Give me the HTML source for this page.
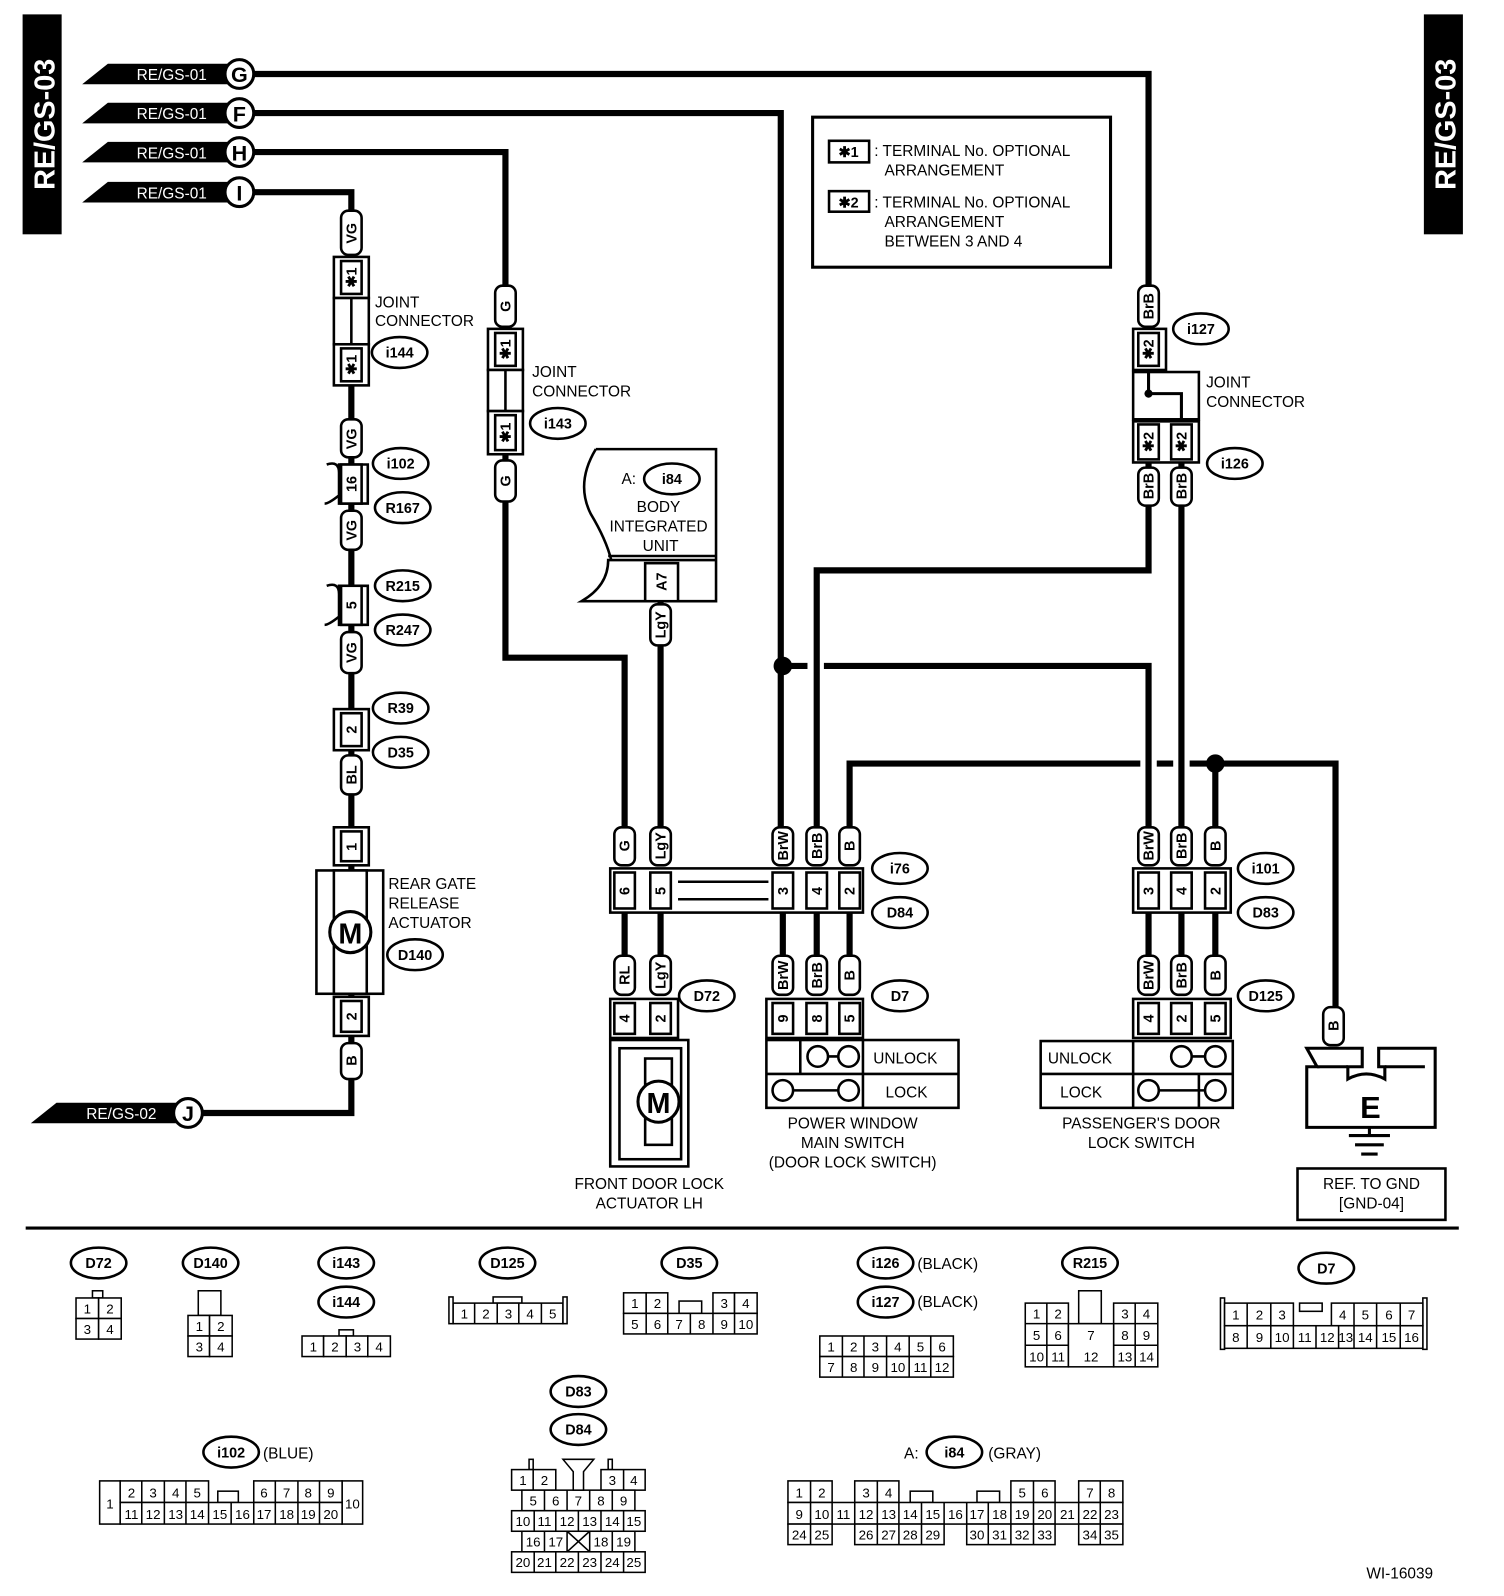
<!DOCTYPE html>
<html><head><meta charset="utf-8"><style>
html,body{margin:0;padding:0;background:#fff}
svg{display:block}
text{font-family:"Liberation Sans",sans-serif;fill:#000}
.w{stroke:#000;stroke-width:6;fill:none}
.b{stroke:#000;stroke-width:2.5;fill:#fff}
.t{font-size:15px}
.s{font-size:14px}
.g{font-size:14px;text-anchor:middle}
</style></head><body>
<svg width="1504" height="1596" viewBox="0 0 1464 1553" preserveAspectRatio="none" xmlns="http://www.w3.org/2000/svg">
<!-- side bars -->
<rect x="22" y="14" width="38" height="214" fill="#000"/>
<text transform="translate(53,121) rotate(-90)" text-anchor="middle" style="font-size:28px;font-weight:bold;fill:#fff">RE/GS-03</text>
<rect x="1386" y="14" width="38" height="214" fill="#000"/>
<text transform="translate(1417,121) rotate(-90)" text-anchor="middle" style="font-size:28px;font-weight:bold;fill:#fff">RE/GS-03</text>

<!-- wires -->
<g class="w">
<path d="M247 72 H1118 V280"/>
<path d="M247 110 H760 V805"/>
<path d="M247 148 H492 V640 H608 V805"/>
<path d="M247 187 H342 V1083 H196"/>
<path d="M643 585 V805"/>
<path d="M1118 318 V555 H795 V805"/>
<path d="M1150 450 V805"/>
<path d="M762 648 H786 M802 648 H1118 V805"/>
<path d="M827 805 V743 H1110 M1126 743 H1142 M1158 743 H1300 V980"/>
<path d="M1183 743 V805"/>
<path d="M608 888 V930 M643 888 V930 M762 888 V930 M795 888 V930 M827 888 V930"/>
<path d="M1118 888 V930 M1150 888 V930 M1183 888 V930"/>
</g>
<circle cx="762" cy="648" r="9"/>
<circle cx="1183" cy="743" r="9"/>

<!-- input flags -->
<g>
<path d="M80 82 L105 62 H222 V82 Z"/><path d="M80 120 L105 100 H222 V120 Z"/>
<path d="M80 158 L105 138 H222 V158 Z"/><path d="M80 197 L105 177 H222 V197 Z"/>
<path d="M30 1093 L55 1073 H172 V1093 Z"/>
</g>
<g style="font-size:15px;fill:#fff">
<text x="133" y="78" style="fill:#fff">RE/GS-01</text><text x="133" y="116" style="fill:#fff">RE/GS-01</text>
<text x="133" y="154" style="fill:#fff">RE/GS-01</text><text x="133" y="193" style="fill:#fff">RE/GS-01</text>
<text x="84" y="1089" style="fill:#fff">RE/GS-02</text>
</g>
<g class="b" style="stroke-width:3">
<circle cx="233" cy="72" r="14"/><circle cx="233" cy="110" r="14"/><circle cx="233" cy="148" r="14"/><circle cx="233" cy="187" r="14"/><circle cx="183" cy="1083" r="14"/>
</g>
<g style="font-size:21px;font-weight:bold" text-anchor="middle">
<text x="233" y="80">G</text><text x="233" y="118">F</text><text x="233" y="156">H</text><text x="233" y="195">I</text><text x="183" y="1091">J</text>
</g>

<!-- pills -->
<g class="b">
<rect x="332" y="205" width="20" height="43" rx="7"/><rect x="332" y="408" width="20" height="37" rx="7"/>
<rect x="332" y="497" width="20" height="38" rx="7"/><rect x="332" y="615" width="20" height="40" rx="7"/>
<rect x="332" y="735" width="20" height="38" rx="7"/><rect x="332" y="1015" width="20" height="35" rx="7"/>
<rect x="482" y="278" width="20" height="40" rx="7"/><rect x="482" y="448" width="20" height="40" rx="7"/>
<rect x="633" y="588" width="20" height="40" rx="7"/>
<rect x="1108" y="278" width="20" height="40" rx="7"/><rect x="1108" y="455" width="20" height="37" rx="7"/><rect x="1140" y="455" width="20" height="37" rx="7"/>
<rect x="598" y="805" width="20" height="37" rx="7"/><rect x="633" y="805" width="20" height="37" rx="7"/><rect x="752" y="805" width="20" height="37" rx="7"/><rect x="785" y="805" width="20" height="37" rx="7"/><rect x="817" y="805" width="20" height="37" rx="7"/>
<rect x="598" y="930" width="20" height="38" rx="7"/><rect x="633" y="930" width="20" height="38" rx="7"/><rect x="752" y="930" width="20" height="38" rx="7"/><rect x="785" y="930" width="20" height="38" rx="7"/><rect x="817" y="930" width="20" height="38" rx="7"/>
<rect x="1108" y="805" width="20" height="37" rx="7"/><rect x="1140" y="805" width="20" height="37" rx="7"/><rect x="1173" y="805" width="20" height="37" rx="7"/>
<rect x="1108" y="930" width="20" height="38" rx="7"/><rect x="1140" y="930" width="20" height="38" rx="7"/><rect x="1173" y="930" width="20" height="38" rx="7"/>
<rect x="1288" y="980" width="20" height="37" rx="7"/>
</g>
<g class="s" text-anchor="middle" style="font-weight:bold">
<text transform="translate(347,227) rotate(-90)">VG</text><text transform="translate(347,427) rotate(-90)">VG</text>
<text transform="translate(347,516) rotate(-90)">VG</text><text transform="translate(347,635) rotate(-90)">VG</text>
<text transform="translate(347,754) rotate(-90)">BL</text><text transform="translate(347,1032) rotate(-90)">B</text>
<text transform="translate(497,298) rotate(-90)">G</text><text transform="translate(497,468) rotate(-90)">G</text>
<text transform="translate(648,608) rotate(-90)">LgY</text>
<text transform="translate(1123,298) rotate(-90)">BrB</text><text transform="translate(1123,473) rotate(-90)">BrB</text><text transform="translate(1155,473) rotate(-90)">BrB</text>
<text transform="translate(613,823) rotate(-90)">G</text><text transform="translate(648,823) rotate(-90)">LgY</text><text transform="translate(767,823) rotate(-90)">BrW</text><text transform="translate(800,823) rotate(-90)">BrB</text><text transform="translate(832,823) rotate(-90)">B</text>
<text transform="translate(613,949) rotate(-90)">RL</text><text transform="translate(648,949) rotate(-90)">LgY</text><text transform="translate(767,949) rotate(-90)">BrW</text><text transform="translate(800,949) rotate(-90)">BrB</text><text transform="translate(832,949) rotate(-90)">B</text>
<text transform="translate(1123,823) rotate(-90)">BrW</text><text transform="translate(1155,823) rotate(-90)">BrB</text><text transform="translate(1188,823) rotate(-90)">B</text>
<text transform="translate(1123,949) rotate(-90)">BrW</text><text transform="translate(1155,949) rotate(-90)">BrB</text><text transform="translate(1188,949) rotate(-90)">B</text>
<text transform="translate(1303,998) rotate(-90)">B</text>
</g>

<!-- left column connectors -->
<g class="b">
<rect x="325" y="250" width="34" height="40"/><rect x="332" y="254" width="20" height="32"/>
<rect x="325" y="290" width="34" height="45"/><line x1="342" y1="290" x2="342" y2="335"/>
<rect x="325" y="335" width="34" height="40"/><rect x="332" y="339" width="20" height="32"/>
<path d="M318 452 Q330 448 330 460 V482 Q320 490 316 490 M330 452 H358 V490 H330 Z"/>
<rect x="332" y="452" width="20" height="38"/>
<path d="M318 570 Q330 566 330 578 V600 Q320 608 316 608 M330 570 H358 V608 H330 Z"/>
<rect x="332" y="570" width="20" height="38"/>
<rect x="325" y="690" width="34" height="40"/><rect x="332" y="694" width="20" height="32"/>
<rect x="325" y="805" width="34" height="37"/><rect x="332" y="809" width="20" height="29"/>
<rect x="308" y="847" width="65" height="120"/><rect x="325" y="847" width="32" height="120"/>
<rect x="325" y="970" width="34" height="38"/><rect x="332" y="974" width="20" height="30"/>
</g>
<circle cx="341" cy="907" r="20" fill="#fff" stroke="#000" stroke-width="3"/>
<text x="341" y="918" text-anchor="middle" style="font-size:28px;font-weight:bold">M</text>
<g class="s" text-anchor="middle" style="font-weight:bold">
<text transform="translate(347,270) rotate(-90)">✱1</text><text transform="translate(347,355) rotate(-90)">✱1</text>
<text transform="translate(347,471) rotate(-90)">16</text><text transform="translate(347,589) rotate(-90)">5</text>
<text transform="translate(347,710) rotate(-90)">2</text><text transform="translate(347,824) rotate(-90)">1</text>
<text transform="translate(347,989) rotate(-90)">2</text>
</g>
<g class="t">
<text x="365" y="299">JOINT</text><text x="365" y="317">CONNECTOR</text>
<text x="378" y="865">REAR GATE</text><text x="378" y="884">RELEASE</text><text x="378" y="903">ACTUATOR</text>
<text x="518" y="367">JOINT</text><text x="518" y="386">CONNECTOR</text>
<text x="1174" y="377">JOINT</text><text x="1174" y="396">CONNECTOR</text>
</g>

<!-- H joint -->
<g class="b">
<rect x="475" y="320" width="34" height="40"/><rect x="482" y="324" width="20" height="32"/>
<rect x="475" y="360" width="34" height="40"/><line x1="492" y1="360" x2="492" y2="400"/>
<rect x="475" y="400" width="34" height="42"/><rect x="482" y="404" width="20" height="34"/>
</g>
<g class="s" text-anchor="middle" style="font-weight:bold">
<text transform="translate(497,340) rotate(-90)">✱1</text><text transform="translate(497,421) rotate(-90)">✱1</text>
</g>

<!-- right joint -->
<g class="b">
<rect x="1103" y="320" width="32" height="40"/><rect x="1108" y="324" width="20" height="32"/>
<rect x="1103" y="362" width="64" height="46"/>
<rect x="1103" y="410" width="64" height="40"/><rect x="1108" y="413" width="20" height="34"/><rect x="1140" y="413" width="20" height="34"/>
</g>
<path d="M1118 362 V383 H1150 V410" class="w" style="stroke-width:3"/>
<circle cx="1118" cy="383" r="4"/>
<g class="s" text-anchor="middle" style="font-weight:bold">
<text transform="translate(1123,340) rotate(-90)">✱2</text><text transform="translate(1123,430) rotate(-90)">✱2</text><text transform="translate(1155,430) rotate(-90)">✱2</text>
</g>

<!-- Body integrated unit -->
<path d="M580 437 H697 V585 H566 Q592 570 592 545 H697 M592 545 V545" class="b"/>
<path d="M580 437 Q560 470 575 500 Q590 525 595 545" fill="none" stroke="#000" stroke-width="2.5"/>
<line x1="592" y1="541" x2="697" y2="541" stroke="#000" stroke-width="2.5"/>
<rect x="628" y="548" width="32" height="37" class="b"/>
<text transform="translate(649,566) rotate(-90)" class="s" text-anchor="middle" style="font-weight:bold">A7</text>
<text x="605" y="471" class="t">A:</text>
<g class="t" text-anchor="middle"><text x="641" y="498">BODY</text><text x="641" y="517">INTEGRATED</text><text x="643" y="536">UNIT</text></g>

<!-- i76/D84 block -->
<g class="b">
<rect x="594" y="845" width="246" height="43"/>
<rect x="598" y="849" width="20" height="35"/><rect x="633" y="849" width="20" height="35"/>
<rect x="752" y="849" width="20" height="35"/><rect x="785" y="849" width="20" height="35"/><rect x="817" y="849" width="20" height="35"/>
<line x1="660" y1="858" x2="748" y2="858"/><line x1="660" y1="875" x2="748" y2="875"/>
<rect x="1103" y="845" width="95" height="43"/>
<rect x="1108" y="849" width="20" height="35"/><rect x="1140" y="849" width="20" height="35"/><rect x="1173" y="849" width="20" height="35"/>
</g>
<g class="s" text-anchor="middle" style="font-weight:bold">
<text transform="translate(613,867) rotate(-90)">6</text><text transform="translate(648,867) rotate(-90)">5</text><text transform="translate(767,867) rotate(-90)">3</text><text transform="translate(800,867) rotate(-90)">4</text><text transform="translate(832,867) rotate(-90)">2</text>
<text transform="translate(1123,867) rotate(-90)">3</text><text transform="translate(1155,867) rotate(-90)">4</text><text transform="translate(1188,867) rotate(-90)">2</text>
</g>

<!-- D72 actuator -->
<g class="b">
<rect x="594" y="972" width="66" height="38"/><rect x="598" y="976" width="20" height="30"/><rect x="633" y="976" width="20" height="30"/>
<rect x="594" y="1012" width="76" height="123"/><rect x="603" y="1020" width="60" height="108"/>
<rect x="628" y="1030" width="26" height="84"/>
</g>
<circle cx="641" cy="1072" r="20" fill="#fff" stroke="#000" stroke-width="3"/>
<text x="641" y="1083" text-anchor="middle" style="font-size:28px;font-weight:bold">M</text>
<g class="s" text-anchor="middle" style="font-weight:bold">
<text transform="translate(613,991) rotate(-90)">4</text><text transform="translate(648,991) rotate(-90)">2</text>
</g>
<g class="t" text-anchor="middle"><text x="632" y="1157">FRONT DOOR LOCK</text><text x="632" y="1176">ACTUATOR LH</text></g>

<!-- D7 switch -->
<g class="b">
<rect x="746" y="972" width="94" height="38"/><rect x="752" y="976" width="20" height="30"/><rect x="785" y="976" width="20" height="30"/><rect x="817" y="976" width="20" height="30"/>
<rect x="746" y="1012" width="187" height="66"/><line x1="746" y1="1045" x2="933" y2="1045"/><line x1="840" y1="1012" x2="840" y2="1078"/><line x1="779" y1="1012" x2="779" y2="1045"/>
<line x1="796" y1="1028" x2="826" y2="1028"/><line x1="762" y1="1061" x2="826" y2="1061"/>
<circle cx="796" cy="1028" r="10"/><circle cx="826" cy="1028" r="10"/><circle cx="762" cy="1061" r="10"/><circle cx="826" cy="1061" r="10"/>
</g>
<g class="s" text-anchor="middle" style="font-weight:bold">
<text transform="translate(767,991) rotate(-90)">9</text><text transform="translate(800,991) rotate(-90)">8</text><text transform="translate(832,991) rotate(-90)">5</text>
</g>
<g class="t"><text x="850" y="1035">UNLOCK</text><text x="862" y="1068">LOCK</text></g>
<g class="t" text-anchor="middle"><text x="830" y="1098">POWER WINDOW</text><text x="830" y="1117">MAIN SWITCH</text><text x="830" y="1136">(DOOR LOCK SWITCH)</text></g>

<!-- D125 switch -->
<g class="b">
<rect x="1103" y="972" width="95" height="38"/><rect x="1108" y="976" width="20" height="30"/><rect x="1140" y="976" width="20" height="30"/><rect x="1173" y="976" width="20" height="30"/>
<rect x="1013" y="1013" width="187" height="65"/><line x1="1013" y1="1045" x2="1200" y2="1045"/><line x1="1103" y1="1013" x2="1103" y2="1078"/><line x1="1167" y1="1045" x2="1167" y2="1078"/>
<line x1="1150" y1="1028" x2="1183" y2="1028"/><line x1="1118" y1="1061" x2="1183" y2="1061"/>
<circle cx="1150" cy="1028" r="10"/><circle cx="1183" cy="1028" r="10"/><circle cx="1118" cy="1061" r="10"/><circle cx="1183" cy="1061" r="10"/>
</g>
<g class="s" text-anchor="middle" style="font-weight:bold">
<text transform="translate(1123,991) rotate(-90)">4</text><text transform="translate(1155,991) rotate(-90)">2</text><text transform="translate(1188,991) rotate(-90)">5</text>
</g>
<g class="t"><text x="1020" y="1035">UNLOCK</text><text x="1032" y="1068">LOCK</text></g>
<g class="t" text-anchor="middle"><text x="1111" y="1098">PASSENGER'S DOOR</text><text x="1111" y="1117">LOCK SWITCH</text></g>

<!-- ground -->
<path d="M1272 1020 H1326 V1038 H1312 V1050 Q1330 1040 1348 1050 V1038 H1342 V1020 H1397 V1097 H1272 V1038 H1282 Z" class="b" style="stroke-width:3"/>
<line x1="1282" y1="1038" x2="1312" y2="1038" stroke="#000" stroke-width="3"/>
<line x1="1348" y1="1038" x2="1387" y2="1038" stroke="#000" stroke-width="3"/>
<text x="1334" y="1088" text-anchor="middle" style="font-size:30px;font-weight:bold">E</text>
<g stroke="#000" stroke-width="3"><line x1="1333" y1="1097" x2="1333" y2="1105"/><line x1="1313" y1="1105" x2="1353" y2="1105"/><line x1="1319" y1="1114" x2="1347" y2="1114"/><line x1="1325" y1="1123" x2="1341" y2="1123"/></g>
<rect x="1263" y="1137" width="144" height="50" class="b"/>
<g class="t" text-anchor="middle"><text x="1335" y="1157">REF. TO GND</text><text x="1335" y="1176">[GND-04]</text></g>

<!-- note box -->
<rect x="791" y="114" width="290" height="146" class="b" style="stroke-width:3"/>
<rect x="807" y="137" width="39" height="21" class="b"/><rect x="807" y="186" width="39" height="20" class="b"/>
<text x="826" y="153" text-anchor="middle" class="s" style="font-weight:bold">✱1</text>
<text x="826" y="202" text-anchor="middle" class="s" style="font-weight:bold">✱2</text>
<g class="t"><text x="851" y="152">: TERMINAL No. OPTIONAL</text><text x="861" y="171">ARRANGEMENT</text>
<text x="851" y="202">: TERMINAL No. OPTIONAL</text><text x="861" y="221">ARRANGEMENT</text><text x="861" y="240">BETWEEN 3 AND 4</text></g>

<!-- oval labels -->
<g class="b" style="stroke-width:2.5">
<ellipse cx="389" cy="343" rx="27" ry="15"/><ellipse cx="390" cy="451" rx="27" ry="15"/><ellipse cx="392" cy="494" rx="27" ry="15"/>
<ellipse cx="392" cy="570" rx="27" ry="15"/><ellipse cx="392" cy="613" rx="27" ry="15"/><ellipse cx="390" cy="689" rx="27" ry="15"/><ellipse cx="390" cy="732" rx="27" ry="15"/>
<ellipse cx="404" cy="929" rx="27" ry="15"/><ellipse cx="543" cy="412" rx="27" ry="15"/><ellipse cx="654" cy="466" rx="27" ry="15"/>
<ellipse cx="1169" cy="320" rx="27" ry="15"/><ellipse cx="1202" cy="451" rx="27" ry="15"/>
<ellipse cx="876" cy="845" rx="27" ry="15"/><ellipse cx="876" cy="888" rx="27" ry="15"/><ellipse cx="688" cy="969" rx="27" ry="15"/><ellipse cx="876" cy="969" rx="27" ry="15"/>
<ellipse cx="1232" cy="845" rx="27" ry="15"/><ellipse cx="1232" cy="888" rx="27" ry="15"/><ellipse cx="1232" cy="969" rx="27" ry="15"/>
<ellipse cx="96" cy="1229" rx="27" ry="15"/><ellipse cx="205" cy="1229" rx="27" ry="15"/><ellipse cx="337" cy="1229" rx="27" ry="15"/><ellipse cx="337" cy="1267" rx="27" ry="15"/>
<ellipse cx="494" cy="1229" rx="27" ry="15"/><ellipse cx="671" cy="1229" rx="27" ry="15"/><ellipse cx="862" cy="1229" rx="27" ry="15"/><ellipse cx="862" cy="1267" rx="27" ry="15"/>
<ellipse cx="1061" cy="1229" rx="27" ry="15"/><ellipse cx="1291" cy="1234" rx="27" ry="15"/>
<ellipse cx="563" cy="1354" rx="27" ry="15"/><ellipse cx="563" cy="1391" rx="27" ry="15"/><ellipse cx="225" cy="1413" rx="27" ry="15"/><ellipse cx="929" cy="1413" rx="27" ry="15"/>
</g>
<g class="g" style="font-weight:bold">
<text x="389" y="348">i144</text><text x="390" y="456">i102</text><text x="392" y="499">R167</text>
<text x="392" y="575">R215</text><text x="392" y="618">R247</text><text x="390" y="694">R39</text><text x="390" y="737">D35</text>
<text x="404" y="934">D140</text><text x="543" y="417">i143</text><text x="654" y="471">i84</text>
<text x="1169" y="325">i127</text><text x="1202" y="456">i126</text>
<text x="876" y="850">i76</text><text x="876" y="893">D84</text><text x="688" y="974">D72</text><text x="876" y="974">D7</text>
<text x="1232" y="850">i101</text><text x="1232" y="893">D83</text><text x="1232" y="974">D125</text>
<text x="96" y="1234">D72</text><text x="205" y="1234">D140</text><text x="337" y="1234">i143</text><text x="337" y="1272">i144</text>
<text x="494" y="1234">D125</text><text x="671" y="1234">D35</text><text x="862" y="1234">i126</text><text x="862" y="1272">i127</text>
<text x="1061" y="1234">R215</text><text x="1291" y="1239">D7</text>
<text x="563" y="1359">D83</text><text x="563" y="1396">D84</text><text x="225" y="1418">i102</text><text x="929" y="1418">i84</text>
</g>
<g class="t"><text x="893" y="1235">(BLACK)</text><text x="893" y="1272">(BLACK)</text><text x="256" y="1419">(BLUE)</text><text x="880" y="1419">A:</text><text x="962" y="1419">(GRAY)</text></g>

<line x1="25" y1="1195" x2="1420" y2="1195" stroke="#000" stroke-width="3"/>

<!-- bottom connector grids -->
<g fill="#fff" stroke="#000" stroke-width="1.5">
<!-- D72 -->
<rect x="90" y="1256" width="10" height="7"/>
<rect x="74" y="1263" width="22" height="20"/><rect x="96" y="1263" width="22" height="20"/><rect x="74" y="1283" width="22" height="20"/><rect x="96" y="1283" width="22" height="20"/>
<!-- D140 -->
<rect x="193" y="1256" width="22" height="24"/>
<rect x="183" y="1280" width="21" height="20"/><rect x="204" y="1280" width="22" height="20"/><rect x="183" y="1300" width="21" height="20"/><rect x="204" y="1300" width="22" height="20"/>
<!-- i143 -->
<rect x="330" y="1294" width="14" height="6"/>
<rect x="294" y="1300" width="21" height="20"/><rect x="315" y="1300" width="22" height="20"/><rect x="337" y="1300" width="21" height="20"/><rect x="358" y="1300" width="22" height="20"/>
<!-- D125 -->
<rect x="480" y="1262" width="28" height="6"/><rect x="441" y="1268" width="107" height="20"/>
<rect x="437" y="1262" width="4" height="26"/><rect x="548" y="1262" width="4" height="26"/>
<!-- D35 -->
<rect x="607" y="1258" width="22" height="20"/><rect x="629" y="1258" width="21" height="20"/><rect x="661" y="1266" width="22" height="12"/><rect x="694" y="1258" width="21" height="20"/><rect x="715" y="1258" width="22" height="20"/>
<rect x="607" y="1278" width="130" height="20"/>
<!-- i126 -->
<rect x="798" y="1300" width="130" height="20"/><rect x="798" y="1320" width="130" height="20"/>
<!-- R215 -->
<rect x="1050" y="1256" width="22" height="32"/>
<rect x="998" y="1268" width="42" height="62"/><rect x="1084" y="1268" width="43" height="62"/><rect x="1040" y="1288" width="44" height="42"/>
<!-- D7 -->
<rect x="1188" y="1263" width="4" height="50"/><rect x="1385" y="1263" width="4" height="50"/>
<rect x="1192" y="1268" width="67" height="22"/><rect x="1265" y="1268" width="22" height="8"/><rect x="1296" y="1268" width="89" height="22"/>
<rect x="1192" y="1290" width="193" height="22"/>
<!-- i102 -->
<rect x="97" y="1441" width="20" height="42"/><rect x="333" y="1441" width="20" height="42"/>
<rect x="117" y="1441" width="86" height="21"/><rect x="212" y="1451" width="20" height="11"/><rect x="247" y="1441" width="86" height="21"/>
<rect x="117" y="1462" width="216" height="21"/>
<!-- D83/D84 -->
<rect x="515" y="1420" width="4" height="10"/><rect x="592" y="1420" width="4" height="10"/>
<rect x="498" y="1430" width="43" height="20"/><rect x="585" y="1430" width="43" height="20"/>
<rect x="508" y="1450" width="110" height="20"/><rect x="498" y="1470" width="130" height="20"/><rect x="508" y="1490" width="110" height="20"/><rect x="498" y="1510" width="130" height="20"/>
<!-- i84 -->
<rect x="767" y="1441" width="43" height="21"/><rect x="832" y="1441" width="43" height="21"/><rect x="886" y="1451" width="22" height="11"/><rect x="951" y="1451" width="22" height="11"/><rect x="984" y="1441" width="43" height="21"/><rect x="1050" y="1441" width="43" height="21"/>
<rect x="767" y="1462" width="326" height="21"/>
<rect x="767" y="1483" width="43" height="20"/><rect x="832" y="1483" width="87" height="20"/><rect x="941" y="1483" width="86" height="20"/><rect x="1050" y="1483" width="43" height="20"/>
</g>
<!-- internal dividers -->
<g stroke="#000" stroke-width="1.5">
<path d="M462 1268V1288M484 1268V1288M505 1268V1288M527 1268V1288"/>
<path d="M629 1278V1298M650 1278V1298M672 1278V1298M694 1278V1298M715 1278V1298"/>
<path d="M820 1300V1340M841 1300V1340M863 1300V1340M885 1300V1340M906 1300V1340"/>
<path d="M1019 1268V1330M998 1288H1040M998 1309H1040M1084 1288H1127M1084 1309H1127M1105 1268V1330"/>
<path d="M1214 1268V1312M1237 1268V1312M1259 1290V1312M1281 1290V1312M1303 1290V1312M1318 1268V1312M1340 1268V1312M1363 1268V1312"/>
<path d="M138 1441V1483M160 1441V1483M181 1441V1483M203 1462V1483M225 1462V1483M247 1462V1483M268 1441V1483M290 1441V1483M311 1441V1483"/>
<path d="M519 1430V1450M607 1430V1450M530 1450V1470M552 1450V1470M574 1450V1470M596 1450V1470M520 1470V1490M541 1470V1490M563 1470V1490M585 1470V1490M607 1470V1490M530 1490V1510M552 1490V1510M574 1490V1510M596 1490V1510M520 1510V1530M541 1510V1530M563 1510V1530M585 1510V1530M607 1510V1530M552 1490L574 1510M574 1490L552 1510"/>
<path d="M548 1420H578L568 1432V1450H558V1432Z" fill="#fff"/>
<path d="M789 1441V1503M789 1462V1503M810 1462V1483M832 1462V1483M854 1441V1503M875 1462V1503M897 1462V1503M919 1462V1483M941 1462V1483M962 1462V1503M984 1462V1503M1006 1441V1503M1027 1462V1483M1050 1462V1483M1071 1441V1503"/>
</g>
<g style="font-size:13px" text-anchor="middle">
<text x="85" y="1278">1</text><text x="107" y="1278">2</text><text x="85" y="1298">3</text><text x="107" y="1298">4</text>
<text x="194" y="1295">1</text><text x="215" y="1295">2</text><text x="194" y="1315">3</text><text x="215" y="1315">4</text>
<text x="305" y="1315">1</text><text x="326" y="1315">2</text><text x="348" y="1315">3</text><text x="369" y="1315">4</text>
<text x="452" y="1283">1</text><text x="473" y="1283">2</text><text x="495" y="1283">3</text><text x="516" y="1283">4</text><text x="538" y="1283">5</text>
<text x="618" y="1273">1</text><text x="640" y="1273">2</text><text x="705" y="1273">3</text><text x="726" y="1273">4</text>
<text x="618" y="1293">5</text><text x="640" y="1293">6</text><text x="661" y="1293">7</text><text x="683" y="1293">8</text><text x="705" y="1293">9</text><text x="726" y="1293">10</text>
<text x="809" y="1315">1</text><text x="831" y="1315">2</text><text x="852" y="1315">3</text><text x="874" y="1315">4</text><text x="896" y="1315">5</text><text x="917" y="1315">6</text>
<text x="809" y="1335">7</text><text x="831" y="1335">8</text><text x="852" y="1335">9</text><text x="874" y="1335">10</text><text x="896" y="1335">11</text><text x="917" y="1335">12</text>
<text x="1009" y="1283">1</text><text x="1030" y="1283">2</text><text x="1095" y="1283">3</text><text x="1116" y="1283">4</text>
<text x="1009" y="1304">5</text><text x="1030" y="1304">6</text><text x="1062" y="1304">7</text><text x="1095" y="1304">8</text><text x="1116" y="1304">9</text>
<text x="1009" y="1325">10</text><text x="1030" y="1325">11</text><text x="1062" y="1325">12</text><text x="1095" y="1325">13</text><text x="1116" y="1325">14</text>
<text x="1203" y="1284">1</text><text x="1226" y="1284">2</text><text x="1248" y="1284">3</text><text x="1307" y="1284">4</text><text x="1329" y="1284">5</text><text x="1352" y="1284">6</text><text x="1374" y="1284">7</text>
<text x="1203" y="1306">8</text><text x="1226" y="1306">9</text><text x="1248" y="1306">10</text><text x="1270" y="1306">11</text><text x="1292" y="1306">12</text><text x="1310" y="1306">13</text><text x="1329" y="1306">14</text><text x="1352" y="1306">15</text><text x="1374" y="1306">16</text>
<text x="107" y="1468">1</text><text x="343" y="1468">10</text>
<text x="128" y="1457">2</text><text x="149" y="1457">3</text><text x="171" y="1457">4</text><text x="192" y="1457">5</text><text x="257" y="1457">6</text><text x="279" y="1457">7</text><text x="300" y="1457">8</text><text x="322" y="1457">9</text>
<text x="128" y="1478">11</text><text x="149" y="1478">12</text><text x="171" y="1478">13</text><text x="192" y="1478">14</text><text x="214" y="1478">15</text><text x="236" y="1478">16</text><text x="257" y="1478">17</text><text x="279" y="1478">18</text><text x="300" y="1478">19</text><text x="322" y="1478">20</text>
<text x="509" y="1445">1</text><text x="530" y="1445">2</text><text x="596" y="1445">3</text><text x="617" y="1445">4</text>
<text x="519" y="1465">5</text><text x="541" y="1465">6</text><text x="563" y="1465">7</text><text x="585" y="1465">8</text><text x="607" y="1465">9</text>
<text x="509" y="1485">10</text><text x="530" y="1485">11</text><text x="552" y="1485">12</text><text x="574" y="1485">13</text><text x="596" y="1485">14</text><text x="617" y="1485">15</text>
<text x="519" y="1505">16</text><text x="541" y="1505">17</text><text x="585" y="1505">18</text><text x="607" y="1505">19</text>
<text x="509" y="1525">20</text><text x="530" y="1525">21</text><text x="552" y="1525">22</text><text x="574" y="1525">23</text><text x="596" y="1525">24</text><text x="617" y="1525">25</text>
<text x="778" y="1457">1</text><text x="800" y="1457">2</text><text x="843" y="1457">3</text><text x="865" y="1457">4</text><text x="995" y="1457">5</text><text x="1017" y="1457">6</text><text x="1061" y="1457">7</text><text x="1082" y="1457">8</text>
<text x="778" y="1478">9</text><text x="800" y="1478">10</text><text x="821" y="1478">11</text><text x="843" y="1478">12</text><text x="865" y="1478">13</text><text x="886" y="1478">14</text><text x="908" y="1478">15</text><text x="930" y="1478">16</text><text x="951" y="1478">17</text><text x="973" y="1478">18</text><text x="995" y="1478">19</text><text x="1017" y="1478">20</text><text x="1039" y="1478">21</text><text x="1061" y="1478">22</text><text x="1082" y="1478">23</text>
<text x="778" y="1498">24</text><text x="800" y="1498">25</text><text x="843" y="1498">26</text><text x="865" y="1498">27</text><text x="886" y="1498">28</text><text x="908" y="1498">29</text><text x="951" y="1498">30</text><text x="973" y="1498">31</text><text x="995" y="1498">32</text><text x="1017" y="1498">33</text><text x="1061" y="1498">34</text><text x="1082" y="1498">35</text>
</g>
<text x="1330" y="1536" class="t">WI-16039</text>
</svg>
</body></html>
